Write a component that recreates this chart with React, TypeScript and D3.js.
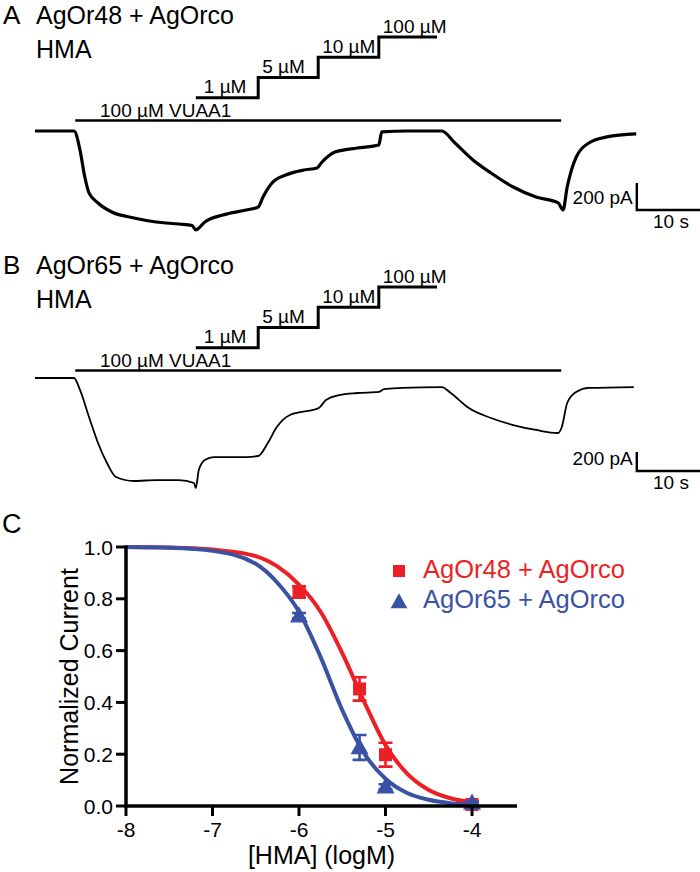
import React from 'react';
import * as d3 from 'd3';

// ---- panel A / B : recordings (time in s, current in pA) ----
const traceATime = [0, 6.5, 7.5, 8.3, 9.0, 10.5, 12.8, 16.5, 20.2, 24.0, 26.2, 26.8, 28.3, 31.3, 35.2, 37.2, 38.0, 39.5, 41.8, 44.8, 47.0, 47.7, 50.0, 53.7, 57.3, 57.8, 62.0, 67.8, 70.0, 73.0, 76.0, 79.7, 83.5, 87.2, 88.0, 88.7, 90.2, 92.3, 95.3, 100.2];
const traceACurrent = [0, 0, -141, -341, -459, -533, -600, -644, -674, -689, -700, -733, -674, -622, -585, -563, -489, -385, -326, -289, -274, -237, -156, -126, -104, -7, 0, 0, -89, -215, -311, -415, -489, -533, -585, -415, -193, -89, -44, -22];

const traceBTime = [0, 6.5, 7.5, 9.0, 10.5, 12.0, 13.5, 16.5, 20.2, 24.0, 26.5, 26.8, 27.3, 28.3, 29.8, 35.2, 37.2, 38.8, 40.3, 42.5, 46.2, 47.3, 48.5, 50.7, 53.7, 57.3, 58.2, 61.2, 67.8, 69.3, 72.3, 76.0, 79.7, 83.5, 87.2, 87.8, 88.7, 90.2, 92.3, 99.8];
const traceBCurrent = [0, 0, -126, -411, -684, -895, -1042, -1084, -1074, -1074, -1105, -1158, -968, -863, -832, -832, -821, -684, -516, -389, -337, -316, -232, -179, -158, -147, -116, -105, -95, -158, -316, -421, -495, -547, -579, -516, -263, -147, -105, -95];

const vuaaLabel = '100 µM VUAA1';
const vuaaOn = [6.7, 87.7];
const stepLabels = ['1 µM', '5 µM', '10 µM', '100 µM'];
const stepStart = [26.8, 37.2, 47.2, 57.3];
const stepEnd = [37.2, 47.2, 57.3, 67.0];

// ---- panel C : concentration response ----
const doseLog = [-6, -5.3, -5, -4];
const or48Mean = [0.826, 0.452, 0.198, 0.006];
const or48Sem = [0.022, 0.045, 0.046, 0.006];
const or65Mean = [0.735, 0.226, 0.074, 0.012];
const or65Sem = [0.01, 0.048, 0.01, 0.006];

const fitLog = [-8, -7.5, -7, -6.5, -6.25, -6, -5.75, -5.5, -5.25, -5, -4.75, -4.5, -4.25, -4];
const or48Fit = [1.0, 0.998, 0.99, 0.965, 0.925, 0.855, 0.75, 0.59, 0.405, 0.235, 0.125, 0.062, 0.03, 0.014];
const or65Fit = [1.0, 0.997, 0.985, 0.935, 0.862, 0.75, 0.575, 0.37, 0.205, 0.105, 0.05, 0.024, 0.011, 0.005];

const xTicks = [-8, -7, -6, -5, -4];
const yTicks = [0, 0.2, 0.4, 0.6, 0.8, 1.0];

const RED = '#ed1f26';
const BLUE = '#3a52a4';
const FONT = '"Liberation Sans", Arial, Helvetica, sans-serif';

const tScale = d3.scaleLinear().domain([0, 100]).range([35, 635]);

function TracePanel({ top, letter, title, time, current, baseY, pxPer200, width, scaleBottom }) {
  const yS = d3.scaleLinear().domain([0, -200]).range([baseY, baseY + pxPer200]);
  const pts = time.map((t, i) => [tScale(t), yS(current[i])]);
  const line = d3.line().curve(d3.curveMonotoneX);
  const stepY = (i) => top + 97.7 - i * 20.2;
  let stepPath = '';
  stepStart.forEach((s, i) => {
    const x0 = tScale(s);
    const x1 = tScale(stepEnd[i]);
    const y = stepY(i);
    stepPath += i === 0 ? `M${x0},${y}` : `V${y}`;
    stepPath += `H${x1}`;
  });
  const barX = tScale(100.3);
  return (
    <g fontFamily={FONT}>
      <text x={3} y={top + 24} fontSize={26}>{letter}</text>
      <text x={36} y={top + 24} fontSize={25}>{title}</text>
      <text x={36} y={top + 58} fontSize={25}>HMA</text>
      <path d={stepPath} fill="none" stroke="#000" strokeWidth={3} />
      {stepLabels.map((s, i) => (
        <text key={s} x={tScale(stepStart[i]) + (i === 0 ? 8 : 4)} y={stepY(i) - 4.5} fontSize={19}>{s}</text>
      ))}
      <line x1={tScale(vuaaOn[0])} x2={tScale(vuaaOn[1])} y1={top + 120.5} y2={top + 120.5} stroke="#000" strokeWidth={2.6} />
      <text x={100} y={top + 117} fontSize={19}>{vuaaLabel}</text>
      <path d={line(pts)} fill="none" stroke="#000" strokeWidth={width} strokeLinejoin="round" />
      <path d={`M${barX},${scaleBottom - pxPer200}V${scaleBottom}H700`} fill="none" stroke="#000" strokeWidth={2.4} />
      <text x={barX - 4} y={scaleBottom - 6} fontSize={19} textAnchor="end">200 pA</text>
      <text x={671} y={scaleBottom + 18} fontSize={19} textAnchor="middle">10 s</text>
    </g>
  );
}

function DoseResponse() {
  const x = d3.scaleLinear().domain([-8, -3.48]).range([126, 517]);
  const y = d3.scaleLinear().domain([0, 1]).range([806, 547]);
  const fitLine = d3.line().x((d) => x(d[0])).y((d) => y(d[1])).curve(d3.curveMonotoneX);
  const red = fitLog.map((v, i) => [v, or48Fit[i]]);
  const blue = fitLog.map((v, i) => [v, or65Fit[i]]);
  const cap = 7;
  const tri = (cx, cy, s) => `M${cx},${cy - s * 0.62}L${cx + s * 0.6},${cy + s * 0.45}L${cx - s * 0.6},${cy + s * 0.45}Z`;
  const errPath = (d, m, e) =>
    `M${x(d)},${y(m - e)}V${y(m + e)}M${x(d) - cap},${y(m + e)}h${cap * 2}M${x(d) - cap},${y(m - e)}h${cap * 2}`;
  return (
    <g fontFamily={FONT}>
      <text x={2} y={533} fontSize={27}>C</text>
      <path d={fitLine(red)} fill="none" stroke={RED} strokeWidth={4} />
      <path d={fitLine(blue)} fill="none" stroke={BLUE} strokeWidth={4} />
      {doseLog.map((d, i) => (
        <g key={'r' + d}>
          <path d={errPath(d, or48Mean[i], or48Sem[i])} stroke={RED} strokeWidth={2.6} fill="none" />
          <rect x={x(d) - 6.5} y={y(or48Mean[i]) - 6.5} width={13} height={13} fill={RED} />
        </g>
      ))}
      {doseLog.map((d, i) => (
        <g key={'b' + d}>
          <path d={errPath(d, or65Mean[i], or65Sem[i])} stroke={BLUE} strokeWidth={2.6} fill="none" />
          <path d={tri(x(d), y(or65Mean[i]), 15)} fill={BLUE} />
        </g>
      ))}
      {/* axes */}
      <line x1={x(-8)} x2={x(-3.48)} y1={y(0)} y2={y(0)} stroke="#000" strokeWidth={3.5} />
      <line x1={x(-8)} x2={x(-8)} y1={y(0) + 1.75} y2={y(1) - 1.5} stroke="#000" strokeWidth={3.5} />
      {xTicks.map((t) => (
        <g key={t}>
          <line x1={x(t)} x2={x(t)} y1={y(0)} y2={y(0) + 10} stroke="#000" strokeWidth={3} />
          <text x={x(t)} y={837} fontSize={21} textAnchor="middle">{'-' + Math.abs(t)}</text>
        </g>
      ))}
      {yTicks.map((t) => (
        <g key={t}>
          <line x1={x(-8) - 10} x2={x(-8)} y1={y(t)} y2={y(t)} stroke="#000" strokeWidth={3} />
          <text x={113} y={y(t) + 7.5} fontSize={21} textAnchor="end">{t.toFixed(1)}</text>
        </g>
      ))}
      <text transform={`translate(78,${(y(0) + y(1)) / 2}) rotate(-90)`} fontSize={25} textAnchor="middle">Normalized Current</text>
      <text x={(x(-8) + x(-3.48)) / 2} y={864} fontSize={25} textAnchor="middle">[HMA] (logM)</text>
      {/* legend */}
      <rect x={393} y={565} width={12} height={12} fill={RED} />
      <text x={423} y={578} fontSize={25.5} fill={RED}>AgOr48 + AgOrco</text>
      <path d={tri(399, 602, 14)} fill={BLUE} />
      <text x={423} y={608} fontSize={25.5} fill={BLUE}>AgOr65 + AgOrco</text>
    </g>
  );
}

export default function App() {
  return (
    <div style={{ position: 'absolute', left: 0, top: 0 }}>
      <svg width={700} height={872} style={{ display: 'block', background: '#fff' }}>
        <TracePanel top={0} letter="A" title="AgOr48 + AgOrco" time={traceATime} current={traceACurrent} baseY={131} pxPer200={27} width={3.2} scaleBottom={210} />
        <TracePanel top={250} letter="B" title="AgOr65 + AgOrco" time={traceBTime} current={traceBCurrent} baseY={378} pxPer200={19} width={1.8} scaleBottom={471} />
        <DoseResponse />
      </svg>
    </div>
  );
}
